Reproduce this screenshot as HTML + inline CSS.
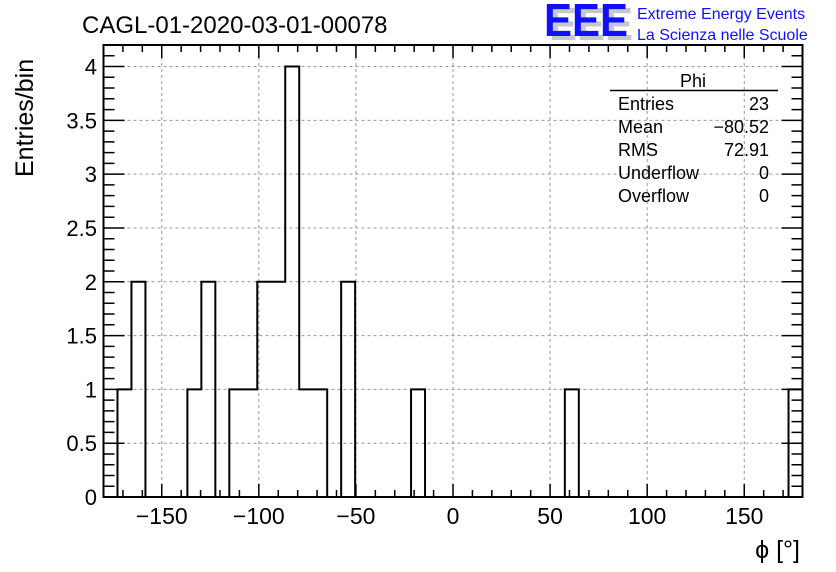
<!DOCTYPE html>
<html><head><meta charset="utf-8"><style>
html,body{margin:0;padding:0;background:#fff;}
svg{display:block;font-family:"Liberation Sans",Arial,sans-serif;}
</style></head><body>
<svg id="chart" width="836" height="572" viewBox="0 0 836 572">
<rect width="836" height="572" fill="#fff"/>
<g id="grid"></g>
<g id="hist"></g>
<g id="axes"></g>
<text x="82" y="33" font-size="24">CAGL-01-2020-03-01-00078</text>
<g>
<text x="549" y="40" font-size="46" font-weight="bold" fill="#c8c8c8" textLength="84" lengthAdjust="spacingAndGlyphs">EEE</text>
<text x="544" y="36" font-size="46" font-weight="bold" fill="#1010ff" textLength="84" lengthAdjust="spacingAndGlyphs">EEE</text>
<text x="637" y="19" font-size="16" fill="#1010ff">Extreme Energy Events</text>
<text x="637" y="40" font-size="16" fill="#1010ff">La Scienza nelle Scuole</text>
</g>
<g font-size="18">
<text x="693" y="87" text-anchor="middle">Phi</text>
<line x1="610" y1="90.5" x2="778" y2="90.5" stroke="#000" stroke-width="1.5"/>
<text x="618" y="110">Entries</text><text x="769" y="110" text-anchor="end">23</text>
<text x="618" y="133">Mean</text><text x="769" y="133" text-anchor="end">−80.52</text>
<text x="618" y="156">RMS</text><text x="769" y="156" text-anchor="end">72.91</text>
<text x="618" y="179">Underflow</text><text x="769" y="179" text-anchor="end">0</text>
<text x="618" y="202">Overflow</text><text x="769" y="202" text-anchor="end">0</text>
</g>
<text x="33" y="177" font-size="25" transform="rotate(-90 33 177)">Entries/bin</text>
<text x="800" y="558" font-size="25" text-anchor="end">ϕ [°]</text>
</svg>
<script>
const binEdgesStart = -180;
const binWidth = 7.2;
const counts = [0,1,2,0,0,0,1,2,0,1,1,2,2,4,1,1,0,2,0,0,0,0,1,0,0,0,0,0,0,0,0,0,0,1,0,0,0,0,0,0,0,0,0,0,0,0,0,0,0,1];
const xTicks = [-150,-100,-50,0,50,100,150];
const xTickLabels = ["−150","−100","−50","0","50","100","150"];
const yTicks = [0,0.5,1,1.5,2,2.5,3,3.5,4];
const yTickLabels = ["0","0.5","1","1.5","2","2.5","3","3.5","4"];
const X0=103.5,X1=802.5,Y0=497,Y1=45,xmin=-180,xmax=180,ymin=0,ymax=4.2;
const sx=v=>X0+(v-xmin)/(xmax-xmin)*(X1-X0);
const sy=v=>Y0-(v-ymin)/(ymax-ymin)*(Y0-Y1);
const NS="http://www.w3.org/2000/svg";
function mk(tag,attrs,parent){const e=document.createElementNS(NS,tag);for(const k in attrs)e.setAttribute(k,attrs[k]);parent.appendChild(e);return e;}
const grid=document.getElementById('grid'),hist=document.getElementById('hist'),axes=document.getElementById('axes');
xTicks.forEach(v=>{const l=mk('line',{x1:sx(v),x2:sx(v),y1:Y1,y2:Y0,stroke:'#999','stroke-dasharray':'3,3','stroke-width':1},grid);
});
yTicks.forEach(v=>{const l=mk('line',{x1:X0,x2:X1,y1:sy(v),y2:sy(v),stroke:'#999','stroke-dasharray':'3,3','stroke-width':1},grid);
});
let d='M'+sx(binEdgesStart)+','+sy(0);
counts.forEach((c,i)=>{const a=binEdgesStart+i*binWidth,b=a+binWidth;d+=' L'+sx(a)+','+sy(c)+' L'+sx(b)+','+sy(c);});
d+=' L'+sx(binEdgesStart+counts.length*binWidth)+','+sy(0);
const p=mk('path',{d:d,fill:'none',stroke:'#000','stroke-width':2},hist);


let td='';
for(let v=-180;v<=180.001;v+=10){const x=sx(v);const major=Math.abs(v%50)<1e-6;const L=major?13:7;td+=`M${x},${Y0}v${-L}M${x},${Y1}v${L}`;}
for(let i=0;i<=42;i++){const v=i*0.1;const y=sy(v);const major=i%5===0;const L=major?21:11;td+=`M${X0},${y}h${L}M${X1},${y}h${-L}`;}
const t=mk('path',{d:td,stroke:'#000','stroke-width':1.5,fill:'none'},axes);


const f=mk('rect',{x:X0,y:Y1,width:X1-X0,height:Y0-Y1,fill:'none',stroke:'#000','stroke-width':2},axes);


xTicks.forEach((v,i)=>{const e=mk('text',{x:sx(v),y:524,'font-size':23,'text-anchor':'middle'},axes);e.textContent=xTickLabels[i];
});
yTicks.forEach((v,i)=>{const e=mk('text',{x:97,y:sy(v)+8,'font-size':22,'text-anchor':'end'},axes);e.textContent=yTickLabels[i];
});
</script>
</body></html>
